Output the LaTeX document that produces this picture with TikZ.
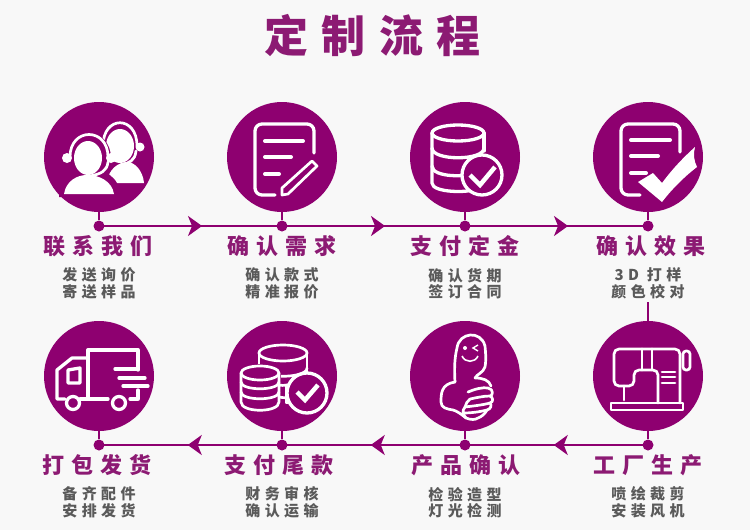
\documentclass[tikz,border=0pt]{standalone}
\usepackage{fontspec}
\setmainfont{Noto Sans CJK SC}
\usetikzlibrary{arrows.meta,decorations.markings}
\definecolor{plum}{HTML}{8E0070}
\definecolor{headplum}{HTML}{8C1A73}
\definecolor{pagebg}{HTML}{F8F8F8}
\definecolor{subgrey}{HTML}{5A5A5A}
\tikzset{
  disc/.style={circle, fill=plum, minimum size=110pt, inner sep=0pt},
  dot/.style={circle, fill=plum, minimum size=11pt, inner sep=0pt},
  stem/.style={draw=plum, line width=2pt},
  flow/.style={draw=plum, line width=2pt, postaction={decorate}, decoration={markings, mark=at position #1 with {\arrow{Stealth[length=14pt, width=20pt, inset=4pt]}}}},
  headtext/.style={text=headplum, font={\fontsize{22}{24}\bfseries\selectfont\addfontfeature{LetterSpace=32}}, inner sep=0pt},
  subtext/.style={text=subgrey, align=center, font={\fontsize{15}{16.5}\bfseries\selectfont\addfontfeature{LetterSpace=29}}, inner sep=0pt},
  iconline/.style={draw=white, line width=3.3pt, line join=round, line cap=round},
  thinline/.style={draw=white, line width=2.7pt, line join=round, line cap=round},
  barline/.style={draw=white, line width=4pt, line cap=round},
}
\begin{document}
\begin{tikzpicture}[x=1pt, y=-1pt, node distance=183pt]
\fill[pagebg] (0,0) rectangle (750,530);
\useasboundingbox (0,0) rectangle (750,530);
\node[text=headplum, inner sep=0pt, font={\fontsize{44}{46}\bfseries\selectfont\addfontfeature{LetterSpace=30}}] (title) at (372.5,36) {定制流程};
\node[minimum width=64pt, minimum height=1.6pt, inner sep=0pt, left color=pagebg, middle color=plum, right color=pagebg] (titlerule) at (369,82) {};
% top row
\node[disc] (contact) at (99,157) {};
\node[disc, right of=contact] (confirm) {};
\node[disc, right of=confirm] (deposit) {};
\node[disc, right of=deposit] (effect) {};
% bottom row
\node[disc, below of=contact, node distance=219pt] (ship) {};
\node[disc, right of=ship] (balance) {};
\node[disc, right of=balance] (approval) {};
\node[disc, right of=approval] (factory) {};
% dots
\node[dot, below of=contact, node distance=69pt] (contactdot) {};
\node[dot, below of=confirm, node distance=69pt] (confirmdot) {};
\node[dot, below of=deposit, node distance=69pt] (depositdot) {};
\node[dot, below of=effect, node distance=69pt] (effectdot) {};
\node[dot, below of=ship, node distance=69pt] (shipdot) {};
\node[dot, below of=balance, node distance=69pt] (balancedot) {};
\node[dot, below of=approval, node distance=69pt] (approvaldot) {};
\node[dot, below of=factory, node distance=69pt] (factorydot) {};
% titles
\node[headtext, below of=contactdot, node distance=20.5pt, xshift=-1pt] (contacthead) {联系我们};
\node[headtext, below of=confirmdot, node distance=20.5pt] (confirmhead) {确认需求};
\node[headtext, below of=depositdot, node distance=20.5pt] (deposithead) {支付定金};
\node[headtext, below of=effectdot, node distance=20.5pt, xshift=3pt] (effecthead) {确认效果};
\node[headtext, below of=shipdot, node distance=20.5pt, xshift=-2pt] (shiphead) {打包发货};
\node[headtext, below of=balancedot, node distance=20.5pt, xshift=-3pt] (balancehead) {支付尾款};
\node[headtext, below of=approvaldot, node distance=20.5pt, xshift=1pt] (approvalhead) {产品确认};
\node[headtext, below of=factorydot, node distance=20.5pt] (factoryhead) {工厂生产};
\node[subtext, below of=contactdot, node distance=57.5pt] (contactsub) {发送询价\\寄送样品};
\node[subtext, below of=confirmdot, node distance=57.5pt] (confirmsub) {确认款式\\精准报价};
\node[subtext, below of=depositdot, node distance=57.5pt] (depositsub) {确认货期\\签订合同};
\node[subtext, below of=effectdot, node distance=57.5pt] (effectsub) {3D 打样\\颜色校对};
\node[subtext, below of=shipdot, node distance=57.5pt] (shipsub) {备齐配件\\安排发货};
\node[subtext, below of=balancedot, node distance=57.5pt] (balancesub) {财务审核\\确认运输};
\node[subtext, below of=approvaldot, node distance=57.5pt] (approvalsub) {检验造型\\灯光检测};
\node[subtext, below of=factorydot, node distance=57.5pt] (factorysub) {喷绘裁剪\\安装风机};
% connectors
\draw[stem] (contact) -- (contactdot);
\draw[stem] (confirm) -- (confirmdot);
\draw[stem] (deposit) -- (depositdot);
\draw[stem] (effect) -- (effectdot);
\draw[stem] (ship) -- (shipdot);
\draw[stem] (balance) -- (balancedot);
\draw[stem] (approval) -- (approvaldot);
\draw[stem] (factory) -- (factorydot);
\draw[flow=.563] (contactdot.center) -- (confirmdot.center);
\draw[flow=.563] (confirmdot.center) -- (depositdot.center);
\draw[flow=.563] (depositdot.center) -- (effectdot.center);
\draw[flow=.515] (factorydot.center) -- (approvaldot.center);
\draw[flow=.515] (approvaldot.center) -- (balancedot.center);
\draw[flow=.515] (balancedot.center) -- (shipdot.center);
\coordinate (effectstem) at (648,302);
\draw[stem] (effectstem) -- (factory);
% headsets
\begin{scope}[shift={(contact.center)}]
\fill[white] (21,-11) ellipse [x radius=14, y radius=17];
\fill[white] (8,26) .. controls (9,12) and (20,5) .. (28,5) .. controls (36,5) and (44,14) .. (45,26) -- cycle;
\draw[thinline] (4,-11) .. controls (4,-42) and (38,-42) .. (38,-11);
\fill[white] (41,-10) circle (4.5pt);
\draw[thinline] (37,-6) .. controls (36,4) and (30,6) .. (22,8);
\fill[plum] (-11,1) ellipse [x radius=23, y radius=26];
\fill[plum] (-40,40) .. controls (-38,16) and (-22,12) .. (-10,12) .. controls (4,12) and (20,18) .. (22,40) -- cycle;
\fill[white] (-11,1) ellipse [x radius=14, y radius=17];
\fill[white] (-35,37) .. controls (-33,24) and (-22,18) .. (-12,18) .. controls (0,18) and (13,24) .. (15,37) -- cycle;
\draw[thinline] (-29,0) .. controls (-29,-30) and (9,-30) .. (9,0);
\fill[white] (-32,1) circle (5pt);
\fill[white] (12,1) circle (5pt);
\draw[thinline] (9,5) .. controls (8,14) and (2,17) .. (-9,19);
\end{scope}
% note and pencil
\begin{scope}[shift={(confirm.center)}]
\draw[iconline, rounded corners=7pt] (-7,38) -- (-27,38) -- (-27,-33) -- (32,-33) -- (32,-4);
\draw[barline] (-17,-16) -- (21,-16);
\draw[barline] (-17,0) -- (9,0);
\draw[barline] (-17,17) -- (-3,17);
\draw[thinline] (30,4) -- (35,9) -- (6,37) -- (0,38) -- (0,31) -- cycle;
\end{scope}
% coins and tick
\begin{scope}[shift={(deposit.center)}]
\draw[iconline] (-7,-24) ellipse [x radius=26, y radius=8];
\draw[iconline] (19,-24) -- (19,-6);
\draw[iconline] (-33,-24) -- (-33,26) .. controls (-33,36) and (5,36) .. (9,32);
\draw[iconline] (-33,-9) .. controls (-33,4) and (19,4) .. (19,-9);
\draw[iconline] (-33,9) .. controls (-33,21) and (4,20) .. (8,16);
\fill[plum] (17,18) circle (21pt);
\draw[iconline] (17,18) circle (20pt);
\draw[white, line width=4.5pt] (5,18) -- (15,28) -- (30,10);
\end{scope}
% note and big tick
\begin{scope}[shift={(effect.center)}]
\draw[iconline, rounded corners=7pt] (-8,38) -- (-27,38) -- (-27,-33) -- (32,-33) -- (32,-5);
\draw[barline] (-17,-17) -- (22,-17);
\draw[barline] (-17,-1) -- (10,-1);
\draw[barline] (-17,16) -- (-2,16);
\fill[white] (-10,25) -- (5,16) -- (14,26) .. controls (26,10) and (36,0) .. (47,-10) .. controls (45,-3) and (46,4) .. (49,10) .. controls (36,20) and (24,32) .. (14,45) -- cycle;
\end{scope}
% truck
\begin{scope}[shift={(ship.center)}]
\draw[iconline] (-11,23) -- (-11,-26) -- (39,-26) -- (39,-6);
\draw[iconline] (39,14) -- (39,23) -- (31,23);
\draw[iconline] (-11,-18) -- (-27,-18) -- (-42,-6) -- (-42,23) -- (-34,23);
\draw[iconline] (-31,-6) -- (-19,-8) -- (-19,7) -- (-31,7) -- cycle;
\draw[iconline] (-19,23) -- (9,23);
\draw[iconline] (-26,27) circle (6.5pt);
\draw[iconline] (20,27) circle (6.5pt);
\draw[iconline] (16,-7) -- (39,-7);
\draw[iconline] (20,2) -- (46,2);
\draw[iconline] (24,10) -- (49,10);
\end{scope}
% two coin stacks and tick
\begin{scope}[shift={(balance.center)}]
\draw[thinline] (1,-23) ellipse [x radius=24, y radius=8];
\draw[thinline] (-23,-23) -- (-23,-5);
\draw[thinline] (25,-23) -- (25,0);
\draw[thinline] (-23,-8) .. controls (-23,3) and (25,3) .. (25,-8);
\fill[plum] (-22,-3) ellipse [x radius=21, y radius=9];
\fill[plum] (-43,-3) rectangle (-1,30);
\draw[thinline] (-22,-3) ellipse [x radius=19, y radius=7];
\draw[thinline] (-41,-3) -- (-41,26) .. controls (-41,37) and (-3,37) .. (-3,26) -- (-3,-3);
\draw[thinline] (-41,6) .. controls (-41,15) and (-3,15) .. (-3,6);
\draw[thinline] (-41,16) .. controls (-41,25) and (-3,25) .. (-3,16);
\draw[thinline] (-3,9) .. controls (2,10) and (6,9) .. (9,8);
\draw[thinline] (-3,21) .. controls (2,22) and (6,22) .. (9,21);
\draw[thinline] (4,9) -- (4,27) -- (14,27);
\fill[plum] (25,17) circle (21pt);
\draw[iconline] (25,17) circle (20pt);
\draw[white, line width=4.5pt] (15,16) -- (23,24) -- (36,9);
\end{scope}
% thumb
\begin{scope}[shift={(approval.center)}]
\draw[thinline] (-10,6) .. controls (-11,-10) and (-10,-20) .. (-8,-28) .. controls (-6,-44) and (16,-46) .. (20,-30) .. controls (21,-20) and (21,-14) .. (20,-9) .. controls (18,-3) and (12,-2) .. (10,2) .. controls (18,2) and (24,4) .. (26,10);
\draw[thinline] (-10,6) .. controls (-24,8) and (-24,18) .. (-24,26) .. controls (-24,32) and (-18,33) .. (-12,34) .. controls (-8,35) and (-4,38) .. (1,42);
\draw[thinline] (3,16) .. controls (10,13) and (18,11) .. (23,12) .. controls (29,13) and (28,20) .. (25,20) .. controls (18,20) and (10,22) .. (5,23);
\draw[thinline] (5,23) .. controls (2,25) and (1,28) .. (0,31) .. controls (8,30) and (18,29) .. (25,27) .. controls (29,26) and (28,21) .. (25,20);
\draw[thinline] (0,31) .. controls (-2,33) and (-2,35) .. (-2,37) .. controls (6,37) and (14,36) .. (22,34) .. controls (26,33) and (27,29) .. (25,27);
\draw[thinline] (-2,37) .. controls (-1,39) and (0,41) .. (1,42) .. controls (6,44) and (10,44) .. (13,42) .. controls (16,41) and (20,38) .. (22,34);
\fill[white] (0,-28) circle (2pt);
\draw[white, line width=1.4pt] (13,-31) -- (8,-28) -- (13,-25);
\draw[white, line width=1.6pt] (-3,-20) .. controls (0,-13) and (10,-13) .. (13,-20);
\end{scope}
% sewing machine
\begin{scope}[shift={(factory.center)}]
\draw[thinline] (-37,27) rectangle (35,34);
\draw[thinline, rounded corners=5pt] (32,27) -- (32,-27) -- (-34,-27) -- (-34,10) -- (-14,10) -- (-14,-6) -- (10,-6) -- (10,27);
\draw[thinline] (-24,10) -- (-24,24);
\draw[thinline] (-6,-27) -- (-6,-6);
\draw[thinline] (4,-27) -- (4,-6);
\draw[thinline, rounded corners=3pt] (35,-25) rectangle (42,-6);
\draw[thinline] (14,-4) -- (27,-4);
\draw[thinline] (14,1) -- (27,1);
\draw[thinline] (14,7) -- (27,7);
\end{scope}
\end{tikzpicture}
\end{document}
